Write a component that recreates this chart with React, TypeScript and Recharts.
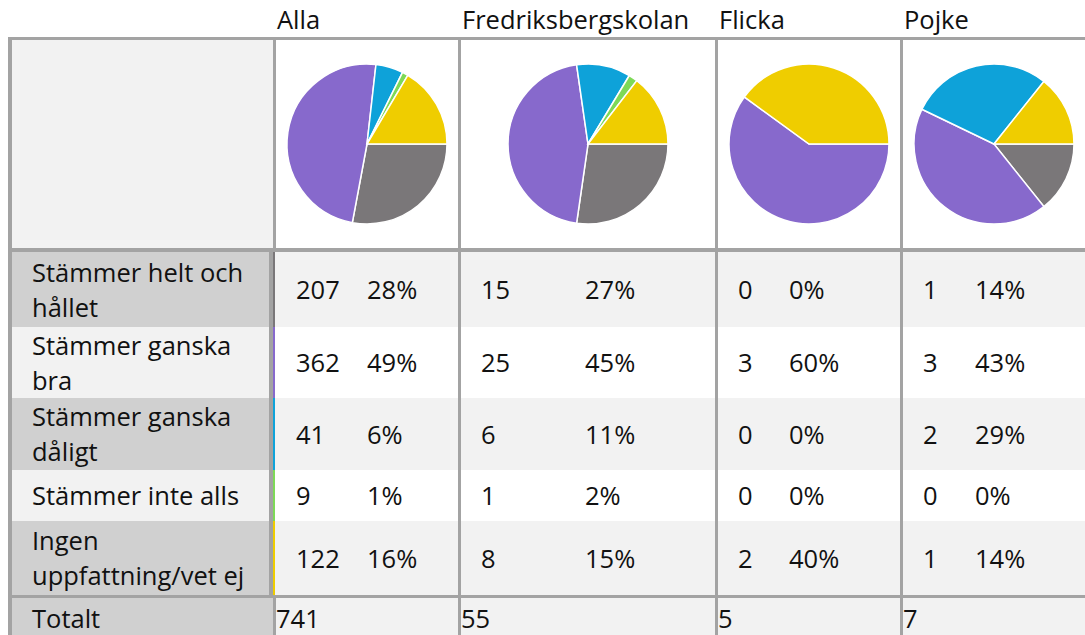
import React from "react";
import { PieChart, Pie, Cell } from "recharts";

const groups = ["Alla", "Fredriksbergskolan", "Flicka", "Pojke"];
const categories = [
  "Stämmer helt och\nhållet",
  "Stämmer ganska\nbra",
  "Stämmer ganska\ndåligt",
  "Stämmer inte alls",
  "Ingen\nuppfattning/vet ej",
];
const sliceColors = ["#7a7779", "#8769cc", "#0ea2d9", "#7ed957", "#efcd00"];

const allaCounts = [207, 362, 41, 9, 122];
const allaPct = [28, 49, 6, 1, 16];
const fredCounts = [15, 25, 6, 1, 8];
const fredPct = [27, 45, 11, 2, 15];
const flickaCounts = [0, 3, 0, 0, 2];
const flickaPct = [0, 60, 0, 0, 40];
const pojkeCounts = [1, 3, 2, 0, 1];
const pojkePct = [14, 43, 29, 0, 14];
const totals = [741, 55, 5, 7];

const counts = [allaCounts, fredCounts, flickaCounts, pojkeCounts];
const pcts = [allaPct, fredPct, flickaPct, pojkePct];

// layout
const FONT = "'Open Sans', sans-serif";
const GRID = "#a3a3a3";
const colLeft = [276, 461, 718, 903];
const colRight = [458, 715, 900, 1085];
const pctOffset = [92, 125, 72, 73];
const rowTops = [252, 327, 398, 470, 521];
const rowBottoms = [327, 398, 470, 521, 595];

const textStyle: React.CSSProperties = {
  position: "absolute",
  display: "flex",
  alignItems: "center",
  fontFamily: FONT,
  fontSize: 25.5,
  lineHeight: "35px",
  color: "#111",
  whiteSpace: "pre",
};

function Box(props: { x: number; y: number; w: number; h: number; bg: string }) {
  return (
    <div
      style={{
        position: "absolute",
        left: props.x,
        top: props.y,
        width: props.w,
        height: props.h,
        background: props.bg,
      }}
    />
  );
}

function Txt(props: { x: number; y: number; h: number; children: React.ReactNode }) {
  return (
    <div style={{ ...textStyle, left: props.x, top: props.y, height: props.h }}>
      {props.children}
    </div>
  );
}

export default function App() {
  return (
    <div
      style={{
        position: "absolute",
        left: 0,
        top: 0,
        width: 1085,
        height: 635,
        overflow: "hidden",
        background: "#fff",
      }}
    >
      {/* grid background */}
      <Box x={8} y={37} w={1077} h={598} bg={GRID} />

      {/* header row */}
      <Box x={12} y={40} w={261} h={208} bg="#f2f2f2" />
      {groups.map((g, i) => (
        <React.Fragment key={g}>
          <Txt x={colLeft[i] + 1} y={1} h={37}>
            {g}
          </Txt>
          <div
            style={{
              position: "absolute",
              left: colLeft[i],
              top: 40,
              width: colRight[i] - colLeft[i],
              height: 208,
              background: "#fff",
            }}
          >
            <PieChart width={colRight[i] - colLeft[i]} height={208}>
              <Pie
                data={categories.map((c, k) => ({ name: c, value: counts[i][k] }))}
                dataKey="value"
                cx="50%"
                cy="50%"
                outerRadius={80}
                startAngle={0}
                endAngle={-360}
                stroke="#fff"
                strokeWidth={1.5}
                isAnimationActive={false}
              >
                {categories.map((c, k) => (
                  <Cell key={c} fill={sliceColors[k]} />
                ))}
              </Pie>
            </PieChart>
          </div>
        </React.Fragment>
      ))}

      {/* data rows */}
      {categories.map((c, r) => {
        const y = rowTops[r];
        const h = rowBottoms[r] - rowTops[r];
        const odd = r % 2 === 0;
        return (
          <React.Fragment key={c}>
            <Box x={12} y={y} w={257} h={h} bg={odd ? "#d0d0d0" : "#f2f2f2"} />
            <Txt x={32} y={y} h={h}>
              {c}
            </Txt>
            <Box x={273} y={y} w={2} h={h} bg={sliceColors[r]} />
            {groups.map((g, i) => (
              <React.Fragment key={g}>
                <Box
                  x={i === 0 ? 275 : colLeft[i]}
                  y={y}
                  w={colRight[i] - (i === 0 ? 275 : colLeft[i])}
                  h={h}
                  bg={odd ? "#f2f2f2" : "#ffffff"}
                />
                <Txt x={colLeft[i] + 20} y={y} h={h}>
                  {counts[i][r]}
                </Txt>
                <Txt x={colLeft[i] + pctOffset[i] - 1} y={y} h={h}>
                  {pcts[i][r] + "%"}
                </Txt>
              </React.Fragment>
            ))}
          </React.Fragment>
        );
      })}

      {/* total row */}
      <Box x={12} y={598} w={261} h={37} bg="#d0d0d0" />
      <Txt x={32} y={600} h={37}>
        Totalt
      </Txt>
      {groups.map((g, i) => (
        <React.Fragment key={g}>
          <Box x={colLeft[i]} y={598} w={colRight[i] - colLeft[i]} h={37} bg="#f2f2f2" />
          <Txt x={colLeft[i]} y={600} h={37}>
            {totals[i]}
          </Txt>
        </React.Fragment>
      ))}
    </div>
  );
}
